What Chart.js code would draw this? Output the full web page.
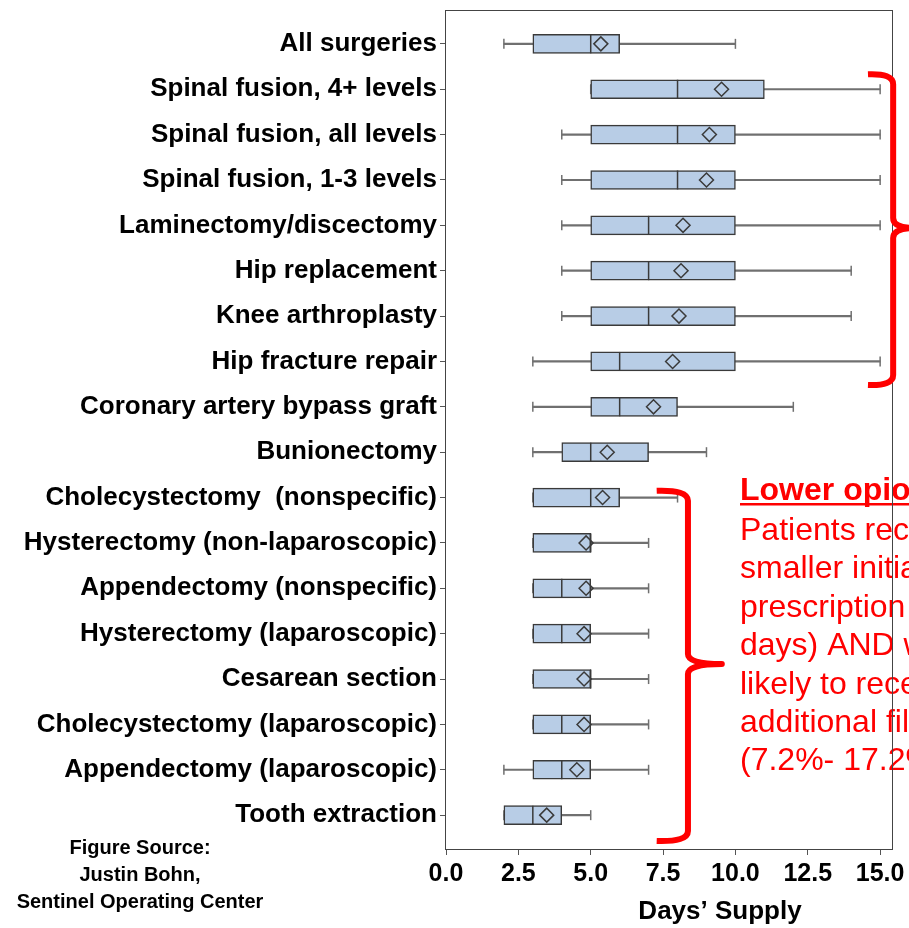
<!DOCTYPE html>
<html>
<head>
<meta charset="utf-8">
<script src="https://cdn.jsdelivr.net/npm/chart.js@4.4.0/dist/chart.umd.min.js"></script>
<style>
  html, body { margin: 0; padding: 0; background: #fff; }
  #wrap { width: 909px; height: 928px; }
</style>
</head>
<body>
<div id="wrap"><canvas id="chartBox" width="909" height="928"></canvas></div>
<script>
var categories = [
    'All surgeries',
    'Spinal fusion, 4+ levels',
    'Spinal fusion, all levels',
    'Spinal fusion, 1-3 levels',
    'Laminectomy/discectomy',
    'Hip replacement',
    'Knee arthroplasty',
    'Hip fracture repair',
    'Coronary artery bypass graft',
    'Bunionectomy',
    'Cholecystectomy  (nonspecific)',
    'Hysterectomy (non-laparoscopic)',
    'Appendectomy (nonspecific)',
    'Hysterectomy (laparoscopic)',
    'Cesarean section',
    'Cholecystectomy (laparoscopic)',
    'Appendectomy (laparoscopic)',
    'Tooth extraction'
];
var whiskerLow  = [2, 5, 4, 4, 4, 4, 4, 3, 3, 3, 3, 3, 3, 3, 3, 3, 2, 2];
var q1          = [3, 5, 5, 5, 5, 5, 5, 5, 5, 4, 3, 3, 3, 3, 3, 3, 3, 2];
var median      = [5, 8, 8, 8, 7, 7, 7, 6, 6, 5, 5, 5, 4, 4, 5, 4, 4, 3];
var q3          = [6, 11, 10, 10, 10, 10, 10, 10, 8, 7, 6, 5, 5, 5, 5, 5, 5, 4];
var whiskerHigh = [10, 15, 15, 15, 15, 14, 14, 15, 12, 9, 8, 7, 7, 7, 7, 7, 7, 5];
var mean        = [5.35, 9.52, 9.10, 9.00, 8.19, 8.12, 8.05, 7.83, 7.17, 5.57, 5.41, 4.84, 4.84, 4.77, 4.77, 4.77, 4.52, 3.48];
var xTicks = [0, 2.5, 5, 7.5, 10, 12.5, 15];

var noteTitle = 'Lower opioid use:';
var noteLines = [
    'Patients received',
    'smaller initial',
    'prescription',
    'days) AND were less',
    'likely to receive',
    'additional fills',
    '(7.2%- 17.2%)'
];

var FONT = '"Liberation Sans", Arial, sans-serif';

function pts(arr) {
    return arr.map(function (v, i) { return { x: v, y: i }; });
}
function bars(lo, hi) {
    return lo.map(function (v, i) { return { x: [v, hi[i]], y: i }; });
}

var annotations = {
    id: 'annotations',
    beforeDraw: function (chart) {
        var ctx = chart.ctx;
        ctx.save();
        ctx.fillStyle = '#ff0000';
        ctx.textAlign = 'left';
        ctx.textBaseline = 'alphabetic';
        ctx.font = 'bold 32px ' + FONT;
        ctx.fillText(noteTitle, 740, 500);
        var w = ctx.measureText(noteTitle).width;
        ctx.fillRect(740, 503, w, 2.5);
        ctx.font = '32px ' + FONT;
        noteLines.forEach(function (t, i) {
            ctx.fillText(t, 740, 540 + i * 38.4);
        });
        ctx.restore();
    },
    afterDatasetsDraw: function (chart) {
        var a = chart.chartArea, ctx = chart.ctx;
        ctx.save();
        ctx.strokeStyle = '#444';
        ctx.lineWidth = 1;
        ctx.strokeRect(Math.round(a.left) - 0.5, Math.round(a.top) - 0.5,
            Math.round(a.right - a.left) + 1, Math.round(a.bottom - a.top) + 1);
        ctx.restore();
    },
    afterDraw: function (chart) {
        var ctx = chart.ctx, xs = chart.scales.x, ys = chart.scales.y;
        function brace(from, to, mid, xv, hook, tip) {
            var x = xs.getPixelForValue(xv), hx = xs.getPixelForValue(hook), tx = xs.getPixelForValue(tip);
            var y0 = ys.getPixelForValue(from), y1 = ys.getPixelForValue(to), ym = ys.getPixelForValue(mid);
            ctx.beginPath();
            ctx.moveTo(hx, y0);
            ctx.quadraticCurveTo(x, y0 - 1, x, y0 + 10);
            ctx.lineTo(x, ym - 10);
            ctx.quadraticCurveTo(x, ym, tx, ym);
            ctx.quadraticCurveTo(x, ym, x, ym + 10);
            ctx.lineTo(x, y1 - 10);
            ctx.quadraticCurveTo(x, y1 + 1, hx, y1);
            ctx.stroke();
        }
        ctx.save();
        ctx.strokeStyle = '#ff0000';
        ctx.lineWidth = 6;
        ctx.lineJoin = 'round';
        brace(0.67, 7.52, 4.06, 15.45, 14.58, 16.2);
        brace(9.85, 17.57, 13.67, 8.36, 7.28, 9.53);
        ctx.restore();

        ctx.save();
        ctx.fillStyle = '#000';
        ctx.textAlign = 'center';
        ctx.textBaseline = 'middle';
        ctx.font = 'bold 26px ' + FONT;
        ctx.fillText('Days\u2019 Supply', 720, 912);
        ctx.font = 'bold 20px ' + FONT;
        ctx.fillText('Figure Source:', 140, 848);
        ctx.fillText('Justin Bohn,', 140, 875);
        ctx.fillText('Sentinel Operating Center', 140, 902);
        ctx.restore();
    }
};

var ctx = document.getElementById('chartBox').getContext('2d');
var boxChart = new Chart(ctx, {
    data: {
        datasets: [{
            type: 'bar',
            indexAxis: 'y',
            grouped: false,
            label: 'Whiskers',
            data: bars(whiskerLow, whiskerHigh),
            backgroundColor: '#707070',
            barThickness: 1.5,
            order: 5
        }, {
            type: 'scatter',
            label: 'Low cap',
            data: pts(whiskerLow),
            pointStyle: 'line',
            rotation: 90,
            radius: 5,
            borderColor: '#707070',
            borderWidth: 1.5,
            order: 4
        }, {
            type: 'scatter',
            label: 'High cap',
            data: pts(whiskerHigh),
            pointStyle: 'line',
            rotation: 90,
            radius: 5,
            borderColor: '#707070',
            borderWidth: 1.5,
            order: 4
        }, {
            type: 'bar',
            indexAxis: 'y',
            grouped: false,
            label: 'IQR',
            data: bars(q1, q3),
            backgroundColor: '#b8cde6',
            borderColor: '#3a3a3a',
            borderWidth: 1.5,
            borderSkipped: false,
            barThickness: 19,
            order: 3
        }, {
            type: 'scatter',
            label: 'Median',
            data: pts(median),
            pointStyle: 'line',
            rotation: 90,
            radius: 9.5,
            borderColor: '#3a3a3a',
            borderWidth: 1.5,
            order: 2
        }, {
            type: 'scatter',
            label: 'Mean',
            data: pts(mean),
            pointStyle: 'rectRot',
            radius: 7,
            backgroundColor: 'rgba(0,0,0,0)',
            borderColor: '#3a3a3a',
            borderWidth: 1.5,
            order: 1
        }]
    },
    options: {
        responsive: false,
        animation: false,
        devicePixelRatio: 1,
        layout: { padding: { left: 0, top: 4, right: 17, bottom: 0 } },
        plugins: {
            legend: { display: false },
            tooltip: { enabled: false }
        },
        scales: {
            x: {
                type: 'linear',
                min: 0,
                max: 15.41,
                offset: false,
                afterBuildTicks: function (scale) {
                    scale.ticks = xTicks.map(function (v) { return { value: v }; });
                },
                afterFit: function (scale) {
                    scale.height = 79;
                    scale.paddingLeft = 0;
                    scale.paddingRight = 0;
                },
                grid: { offset: false, drawOnChartArea: false, drawTicks: true, tickLength: 6, color: '#555' },
                border: { display: false },
                ticks: {
                    padding: 4,
                    color: '#000',
                    maxRotation: 0,
                    font: { family: FONT, size: 25, weight: 'bold' },
                    callback: function (v) { return Number(v).toFixed(1); }
                }
            },
            y: {
                type: 'linear',
                reverse: true,
                min: -0.724,
                max: 17.746,
                offset: false,
                afterBuildTicks: function (scale) {
                    scale.ticks = categories.map(function (c, i) { return { value: i }; });
                },
                afterFit: function (scale) {
                    scale.width = 446;
                    scale.paddingTop = 0;
                    scale.paddingBottom = 0;
                },
                grid: { offset: false, drawOnChartArea: false, drawTicks: true, tickLength: 6, color: '#555' },
                border: { display: false },
                ticks: {
                    padding: 3,
                    color: '#000',
                    autoSkip: false,
                    font: { family: FONT, size: 26, weight: 'bold' },
                    callback: function (v) { return categories[v]; }
                }
            }
        }
    },
    plugins: [annotations]
});
</script>
</body>
</html>
